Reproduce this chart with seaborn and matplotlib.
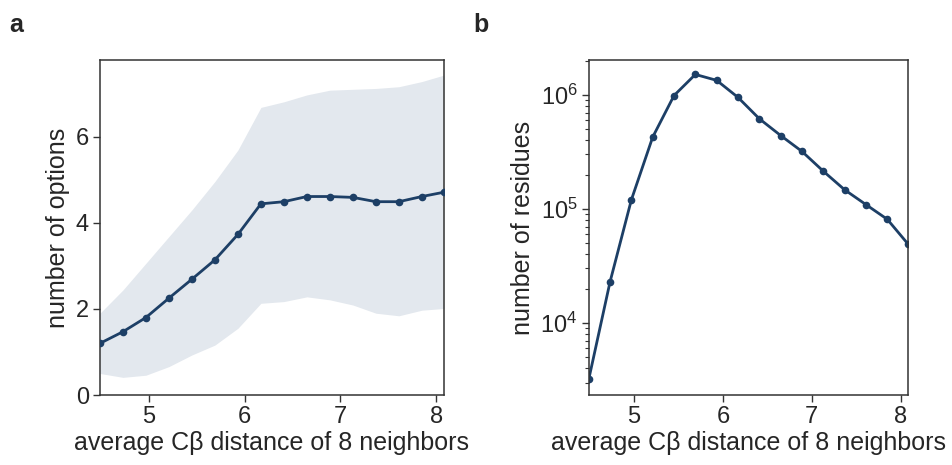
import numpy as np
import pandas as pd
import matplotlib
matplotlib.use("Agg")
import matplotlib.pyplot as plt
import seaborn as sns

# average C-beta distance of 8 neighbours (bin centres)
distance = [4.49, 4.73, 4.97, 5.21, 5.45, 5.69, 5.93, 6.17,
            6.41, 6.65, 6.89, 7.13, 7.37, 7.61, 7.85, 8.08]

# panel a: mean number of options with spread band
options_mean = [1.20, 1.47, 1.80, 2.25, 2.69, 3.14, 3.73, 4.44,
                4.49, 4.61, 4.61, 4.59, 4.49, 4.49, 4.61, 4.71]
options_upper = [1.90, 2.44, 3.06, 3.68, 4.30, 4.96, 5.69, 6.68,
                 6.81, 6.97, 7.08, 7.10, 7.12, 7.16, 7.28, 7.43]
options_lower = [0.50, 0.41, 0.46, 0.66, 0.93, 1.16, 1.55, 2.13,
                 2.17, 2.28, 2.21, 2.09, 1.90, 1.84, 1.97, 2.01]

# panel b: number of residues per bin
residues = [3190, 22900, 1.20e5, 4.26e5, 9.86e5, 1.51e6, 1.34e6, 9.5e5,
            6.17e5, 4.4e5, 3.19e5, 2.14e5, 1.47e5, 1.09e5, 8.1e4, 4.95e4]

sns.set_style("ticks")
plt.rcParams['font.family'] = ['Liberation Sans', 'DejaVu Sans']
plt.rcParams['mathtext.default'] = 'regular'
plt.rcParams['mathtext.fontset'] = 'custom'
plt.rcParams['mathtext.rm'] = 'Liberation Sans'

line_color = "#1d3f66"
band_color = "#e3e8ee"
spine_color = "#333333"
tick_size = 17
label_size = 18

df = pd.DataFrame({"distance": distance, "options": options_mean,
                   "residues": residues})

fig = plt.figure(figsize=(9.52, 4.65), dpi=100)
ax_a = fig.add_axes([0.105, 0.1505, 0.3613, 0.7204])
ax_b = fig.add_axes([0.6184, 0.1505, 0.3351, 0.7204])

# --- panel a
ax_a.fill_between(distance, options_lower, options_upper, color=band_color,
                  linewidth=0, zorder=1)
sns.lineplot(data=df, x="distance", y="options", ax=ax_a, color=line_color,
             marker="o", markersize=5.5, markeredgewidth=0, linewidth=2,
             zorder=3)
ax_a.set_xlim(min(distance), max(distance))
ax_a.set_ylim(0, 7.78)
ax_a.set_yticks([0, 2, 4, 6])
ax_a.set_xticks([5, 6, 7, 8])
ax_a.set_ylabel("number of options", fontsize=label_size, labelpad=4)

# --- panel b
sns.lineplot(data=df, x="distance", y="residues", ax=ax_b, color=line_color,
             marker="o", markersize=5.5, markeredgewidth=0, linewidth=2)
ax_b.set_yscale("log")
ax_b.set_xlim(min(distance), max(distance))
ax_b.set_ylim(2330, 2.02e6)
ax_b.set_xticks([5, 6, 7, 8])
ax_b.set_ylabel("number of residues", fontsize=label_size, labelpad=4)

for ax in (ax_a, ax_b):
    ax.set_xlabel("average C\u03b2 distance of 8 neighbors", fontsize=label_size,
                  labelpad=2)
    ax.tick_params(axis="both", which="major", labelsize=tick_size, length=5,
                   width=1, color=spine_color, direction="out", pad=3)
    ax.tick_params(axis="y", which="minor", length=3, width=0.8,
                   color=spine_color, direction="out")
    for sp in ax.spines.values():
        sp.set_visible(True)
        sp.set_color(spine_color)
        sp.set_linewidth(1.1)
    ax.grid(False)

fig.text(0.010, 0.972, "a", fontsize=18, fontweight="bold", va="top")
fig.text(0.497, 0.972, "b", fontsize=18, fontweight="bold", va="top")

fig.savefig("out.png", dpi=100)
